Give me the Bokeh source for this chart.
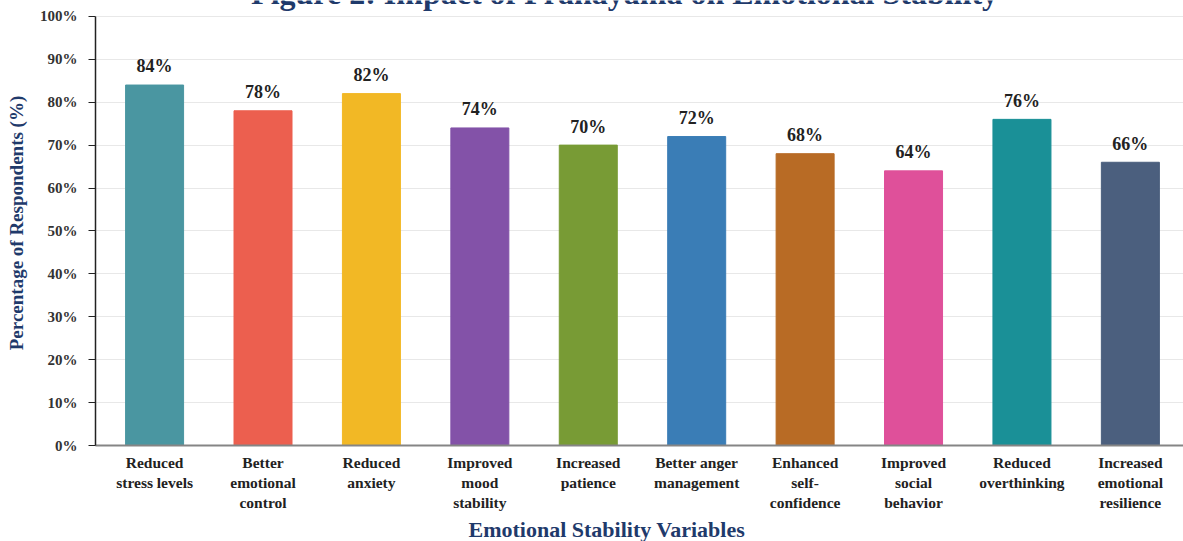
from bokeh.plotting import figure
from bokeh.models import ColumnDataSource, Range1d, FixedTicker, PrintfTickFormatter, Title
from bokeh.core.properties import value
from bokeh.embed import file_html
from bokeh.resources import INLINE

categories = ["Reduced\nstress levels", "Better\nemotional\ncontrol", "Reduced\nanxiety",
              "Improved\nmood\nstability", "Increased\npatience", "Better anger\nmanagement",
              "Enhanced\nself-\nconfidence", "Improved\nsocial\nbehavior", "Reduced\noverthinking",
              "Increased\nemotional\nresilience"]
values = [84, 78, 82, 74, 70, 72, 68, 64, 76, 66]
colors = ["#4a96a1", "#ec5f4f", "#f2b825", "#8352a8", "#789b35",
          "#3a7db6", "#b86b25", "#df509a", "#1a9097", "#4b5f7e"]
y_ticks = [0, 10, 20, 30, 40, 50, 60, 70, 80, 90, 100]
title_text = "Figure 2: Impact of Pranayama on Emotional Stability"
x_title = "Emotional Stability Variables"
y_title = "Percentage of Respondents (%)"

FONT = "Liberation Serif"
NAVY = "#1f3a6b"

idx = list(range(len(categories)))
src = ColumnDataSource(dict(x=idx, top=values, color=colors,
                            lbl=[f"{v}%" for v in values],
                            ly=[v + 2.0 for v in values]))

p = figure(width=1183, height=541, output_backend="svg", toolbar_location=None,
           x_range=Range1d(-0.545, 9.49), y_range=Range1d(0, 103.7),
           min_border_left=95, min_border_right=0, min_border_top=0, min_border_bottom=90)
p.outline_line_color = None
p.background_fill_color = "white"
p.border_fill_color = "white"

p.vbar(x="x", top="top", width=0.535, color="color", source=src)
p.text(x="x", y="ly", text="lbl", source=src, text_align="center", text_baseline="bottom",
       text_font=value(FONT), text_font_style="bold", text_font_size="18px", text_color="#222222")

# chart title (cut off at the top edge, as in the reference)
p.text(x=[4.335], y=[103.5], text=[title_text], text_align="center", text_baseline="alphabetic",
       y_offset=-8, text_font=value(FONT), text_font_style="bold", text_font_size="32px",
       text_color=NAVY)

# x axis
p.xaxis.ticker = FixedTicker(ticks=idx)
p.xaxis.major_label_overrides = {i: c for i, c in enumerate(categories)}
p.xaxis.major_tick_line_color = None
p.xaxis.minor_tick_line_color = None
p.xaxis.axis_line_color = "#858585"
p.xaxis.axis_line_width = 2
p.xaxis.major_label_text_font = FONT
p.xaxis.major_label_text_font_style = "bold"
p.xaxis.major_label_text_font_size = "15.5px"
p.xaxis.major_label_text_color = "#222222"
p.xaxis.major_label_standoff = 2

# y axis
p.yaxis.ticker = FixedTicker(ticks=y_ticks)
p.yaxis.bounds = (0, 100)
p.yaxis.formatter = PrintfTickFormatter(format="%d%%")
p.yaxis.minor_tick_line_color = None
p.yaxis.axis_line_color = "#222222"
p.yaxis.axis_line_width = 1.5
p.yaxis.major_tick_line_color = "#222222"
p.yaxis.major_tick_out = 7
p.yaxis.major_tick_in = 0
p.yaxis.major_label_standoff = 11
p.yaxis.major_label_text_font = FONT
p.yaxis.major_label_text_font_style = "bold"
p.yaxis.major_label_text_font_size = "15px"
p.yaxis.major_label_text_color = "#333333"
p.yaxis.axis_label = y_title
p.yaxis.axis_label_text_font = FONT
p.yaxis.axis_label_text_font_style = "bold"
p.yaxis.axis_label_text_font_size = "19px"
p.yaxis.axis_label_text_color = NAVY
p.yaxis.axis_label_standoff = 10

p.xgrid.grid_line_color = None
p.ygrid.grid_line_color = "#e8e8e8"

p.add_layout(Title(text=x_title, align="left", offset=373, standoff=0,
                   text_font=FONT, text_font_style="bold", text_font_size="22px",
                   text_color=NAVY), "below")

open("out.html", "w").write(file_html(p, INLINE))
